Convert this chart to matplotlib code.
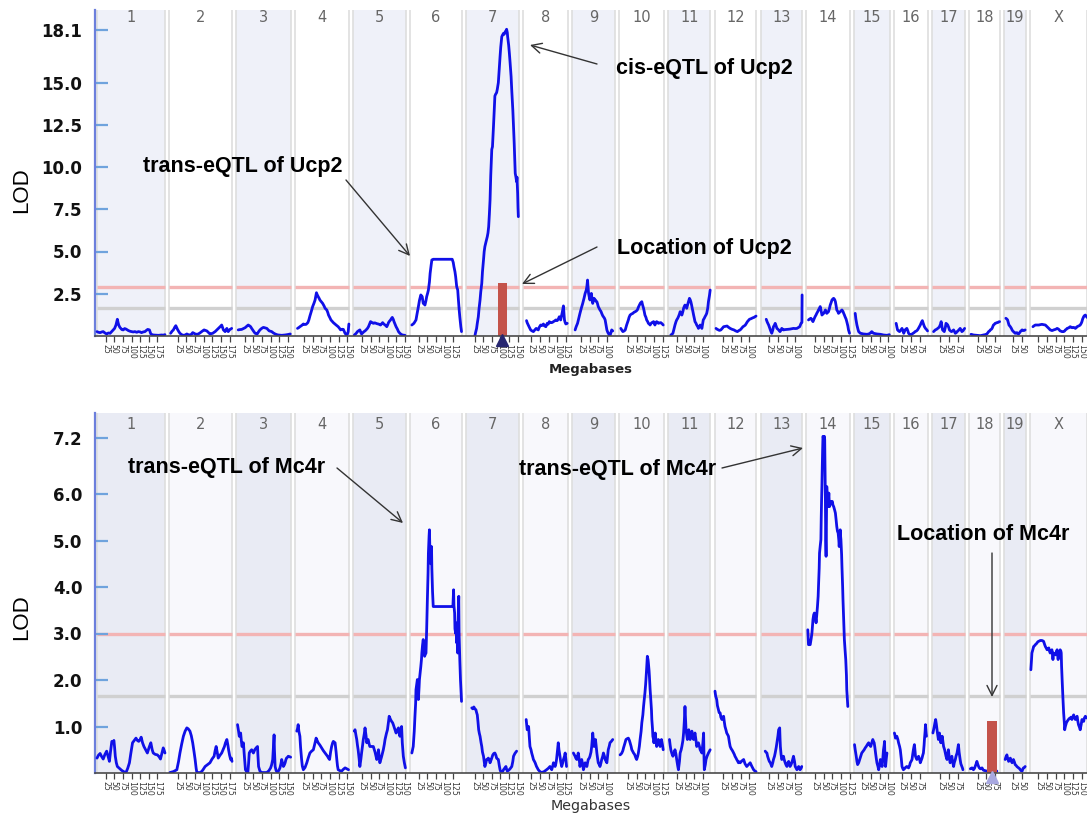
import matplotlib
matplotlib.use('Agg')
import matplotlib.pyplot as plt
import matplotlib.transforms as mtransforms
import numpy as np

plt.rcParams['font.family'] = ['DejaVu Sans']

# ---------------- chromosome layout (Mb) ----------------
CHROMS = ['1', '2', '3', '4', '5', '6', '7', '8', '9', '10', '11', '12', '13',
          '14', '15', '16', '17', '18', '19', 'X']
CHROM_LEN = [197.2, 181.7, 159.6, 155.6, 152.5, 149.5, 152.5, 131.7, 124.1, 129.9,
             121.8, 121.3, 120.3, 125.2, 103.5, 98.3, 95.3, 90.8, 61.3, 166.7]
GAP = 12.2

# ---------------- top panel: Ucp2 LOD scan (Mb, LOD) ----------------
UCP2_CHR1 = [(0,0.26),(4,0.22),(9,0.20),(14,0.24),(18,0.26),(23,0.18),(28,0.12),(33,0.18),(38,0.16),(42,0.25),(47,0.36),(51,0.45),(55,0.65),(59,0.99),(61,0.80),(63,0.65),(66,0.52),(69,0.45),(72,0.38),(76,0.36),(80,0.44),(84,0.41),(88,0.36),(91,0.32),(96,0.28),(100,0.26),(105,0.24),(110,0.26),(115,0.22),(120,0.26),(125,0.24),(129,0.20),(134,0.24),(139,0.26),(143,0.33),(147,0.39),(152,0.36),(156,0.12),(160,0.08),(163,0.06),(170,0.05),(178,0.04),(187,0.06),(192,0.05),(197,0.08)]
UCP2_CHR2 = [(4,0.16),(8,0.28),(12,0.36),(16,0.52),(19,0.61),(22,0.48),(24,0.39),(28,0.25),(31,0.16),(36,0.08),(41,0.04),(46,0.06),(51,0.12),(55,0.08),(60,0.06),(64,0.10),(68,0.20),(72,0.16),(75,0.12),(80,0.10),(84,0.12),(89,0.18),(94,0.26),(98,0.32),(101,0.36),(105,0.33),(109,0.30),(114,0.20),(118,0.12),(122,0.14),(126,0.16),(130,0.22),(133,0.26),(138,0.36),(145,0.50),(149,0.58),(152,0.65),(155,0.48),(157,0.36),(160,0.30),(162,0.26),(165,0.38),(167,0.45),(169,0.32),(171,0.26),(174,0.34),(176,0.39),(179,0.42),(181,0.45)]
UCP2_CHR3 = [(6,0.36),(11,0.38),(16,0.39),(21,0.44),(26,0.49),(31,0.58),(35,0.65),(39,0.60),(42,0.55),(45,0.45),(48,0.36),(52,0.24),(55,0.16),(58,0.14),(61,0.12),(65,0.25),(69,0.36),(74,0.45),(79,0.51),(84,0.48),(89,0.45),(93,0.36),(96,0.30),(100,0.28),(103,0.26),(108,0.18),(113,0.12),(118,0.08),(122,0.06),(127,0.05),(132,0.04),(137,0.05),(142,0.06),(148,0.08),(153,0.10),(157,0.12)]
UCP2_CHR4 = [(6,0.45),(10,0.50),(13,0.55),(18,0.62),(23,0.71),(27,0.68),(31,0.69),(36,0.79),(39,0.95),(42,1.18),(46,1.45),(50,1.74),(54,1.95),(57,2.13),(59,2.35),(61,2.56),(63,2.45),(66,2.33),(69,2.22),(71,2.13),(75,2.03),(79,1.93),(83,1.78),(86,1.64),(89,1.58),(91,1.54),(94,1.38),(96,1.24),(100,1.08),(103,0.95),(107,0.86),(110,0.79),(114,0.72),(118,0.65),(121,0.60),(124,0.55),(128,0.45),(131,0.36),(135,0.40),(139,0.39),(142,0.25),(144,0.16),(148,0.06),(151,0.12),(153,0.26),(155,0.71)]
UCP2_CHR5 = [(3,0.06),(8,0.15),(12,0.26),(16,0.32),(19,0.36),(22,0.20),(24,0.12),(28,0.20),(31,0.26),(34,0.30),(37,0.36),(41,0.45),(44,0.55),(47,0.70),(50,0.85),(54,0.80),(58,0.75),(62,0.78),(66,0.75),(70,0.72),(73,0.71),(76,0.68),(79,0.65),(82,0.72),(85,0.79),(88,0.72),(92,0.65),(95,0.60),(97,0.55),(100,0.68),(102,0.79),(105,0.88),(108,0.95),(111,1.05),(113,1.10),(116,0.98),(118,0.85),(121,0.70),(124,0.55),(128,0.40),(131,0.26),(135,0.16),(140,0.08),(145,0.05),(150,0.04)]
UCP2_CHR6 = [(5,0.65),(8,0.70),(11,0.75),(14,0.85),(17,0.95),(20,1.30),(24,1.74),(27,2.10),(31,2.43),(33,2.38),(35,2.33),(38,1.93),(41,1.88),(43,1.83),(46,2.10),(48,2.33),(51,2.55),(53,2.72),(56,3.20),(58,3.71),(61,4.20),(63,4.50),(67,4.54),(80,4.54),(95,4.54),(110,4.54),(122,4.54),(125,4.35),(127,4.10),(130,3.80),(132,3.51),(135,2.92),(138,2.72),(140,2.13),(142,1.60),(144,1.14),(147,0.55),(149,0.26)]
UCP2_CHR7 = [(26,0.0),(28,0.2),(31,0.45),(33,0.75),(36,1.14),(38,1.60),(41,2.13),(43,2.60),(46,3.12),(48,3.80),(51,4.50),(53,5.00),(55,5.29),(58,5.55),(62,5.88),(64,6.10),(66,6.47),(68,7.20),(70,8.05),(72,9.50),(75,11.04),(77,11.20),(80,12.43),(82,13.30),(84,14.20),(86,14.30),(89,14.40),(91,14.60),(94,14.99),(96,15.60),(99,16.53),(101,17.10),(104,17.71),(106,17.80),(109,17.91),(111,17.85),(114,18.01),(116,18.05),(118,18.15),(120,17.95),(121,17.71),(124,17.20),(126,16.73),(128,16.20),(131,15.35),(133,14.50),(136,13.37),(138,12.40),(140,11.40),(142,10.20),(143,9.63),(145,9.40),(147,9.13),(148,9.40),(150,8.44),(151,7.60),(152,7.06)]
UCP2_CHR8 = [(11,0.91),(13,0.78),(16,0.65),(20,0.48),(23,0.36),(27,0.30),(31,0.26),(35,0.36),(39,0.45),(42,0.40),(45,0.36),(48,0.52),(52,0.65),(56,0.62),(60,0.71),(63,0.60),(67,0.55),(71,0.75),(74,0.70),(77,0.85),(80,0.80),(84,0.79),(87,0.82),(89,0.85),(93,0.90),(96,0.95),(100,0.91),(103,1.00),(106,1.14),(108,1.05),(110,0.95),(112,1.15),(114,1.34),(116,1.55),(118,1.78),(120,1.20),(121,0.95),(123,0.80),(125,0.71),(127,0.73),(129,0.75)]
UCP2_CHR9 = [(8,0.36),(11,0.55),(15,0.75),(18,1.00),(22,1.34),(26,1.65),(30,1.93),(34,2.25),(37,2.52),(40,2.70),(42,2.92),(44,3.31),(45,3.00),(47,2.52),(49,2.30),(51,2.13),(53,2.35),(55,2.52),(57,2.20),(59,1.93),(61,2.10),(63,2.23),(65,2.15),(67,2.13),(69,2.05),(71,2.03),(73,1.90),(75,1.74),(78,1.62),(80,1.54),(83,1.45),(85,1.34),(88,1.20),(90,1.14),(93,1.05),(95,0.95),(98,0.60),(100,0.36),(102,0.25),(104,0.16),(107,0.08),(109,0.0),(111,0.15),(114,0.36),(117,0.30)]
UCP2_CHR10 = [(4,0.45),(7,0.35),(10,0.26),(14,0.30),(17,0.36),(21,0.65),(26,0.95),(28,1.10),(31,1.24),(35,1.30),(39,1.34),(42,1.40),(46,1.44),(49,1.48),(52,1.54),(55,1.70),(58,1.83),(61,1.95),(65,2.03),(67,1.85),(70,1.64),(72,1.45),(74,1.24),(77,1.10),(79,0.95),(82,0.85),(84,0.75),(87,0.70),(89,0.65),(91,0.72),(94,0.79),(97,0.82),(99,0.85),(101,0.75),(103,0.65),(106,0.80),(108,0.85),(111,0.80),(113,0.75),(117,0.78),(120,0.79),(124,0.72),(127,0.65)]
UCP2_CHR11 = [(7,0.06),(10,0.10),(13,0.16),(16,0.40),(19,0.65),(22,0.85),(24,0.95),(27,1.05),(29,1.14),(32,1.30),(34,1.44),(37,1.35),(39,1.24),(42,1.45),(44,1.64),(46,1.75),(48,1.83),(51,1.75),(53,1.64),(57,1.95),(61,2.23),(63,2.15),(65,2.03),(67,1.85),(69,1.64),(71,1.45),(73,1.24),(75,1.05),(77,0.85),(80,0.75),(82,0.65),(85,0.55),(87,0.45),(90,0.55),(92,0.65),(95,0.55),(97,0.45),(99,0.70),(101,0.95),(104,1.05),(106,1.14),(109,1.25),(111,1.34),(114,1.65),(116,2.03),(119,2.40),(121,2.72)]
UCP2_CHR12 = [(4,0.45),(7,0.40),(11,0.36),(14,0.33),(18,0.36),(22,0.45),(26,0.55),(31,0.57),(36,0.59),(40,0.52),(45,0.45),(50,0.40),(56,0.36),(61,0.30),(66,0.26),(70,0.32),(74,0.36),(78,0.45),(82,0.55),(86,0.60),(89,0.65),(92,0.75),(95,0.85),(98,0.92),(101,0.99),(105,1.02),(108,1.05),(111,1.08),(114,1.10),(117,1.14),(120,1.18)]
UCP2_CHR13 = [(16,0.99),(19,0.82),(23,0.65),(26,0.48),(28,0.36),(30,0.25),(32,0.16),(35,0.35),(37,0.55),(40,0.65),(42,0.75),(45,0.58),(47,0.45),(50,0.40),(52,0.36),(54,0.30),(56,0.26),(59,0.35),(61,0.45),(64,0.40),(66,0.36),(71,0.38),(76,0.39),(81,0.40),(85,0.41),(90,0.43),(95,0.45),(100,0.44),(105,0.45),(109,0.50),(113,0.55),(117,0.75),(119.5,0.80),(120,2.43)]
UCP2_CHR14 = [(6,0.95),(9,1.00),(13,1.05),(16,0.95),(19,0.85),(22,1.00),(25,1.14),(28,1.25),(30,1.34),(33,1.45),(35,1.54),(38,1.65),(40,1.74),(43,1.45),(45,1.24),(48,1.30),(50,1.34),(53,1.45),(55,1.54),(57,1.45),(59,1.34),(62,1.40),(64,1.44),(67,1.65),(69,1.83),(72,2.00),(74,2.13),(77,2.20),(79,2.23),(82,2.15),(84,2.03),(86,1.80),(88,1.54),(91,1.45),(93,1.34),(96,1.40),(98,1.44),(101,1.50),(103,1.54),(106,1.45),(108,1.34),(110,1.25),(112,1.14),(115,1.00),(117,0.85),(120,0.60),(122,0.36),(125,0.16)]
UCP2_CHR15 = [(4,1.34),(6,1.00),(9,0.65),(12,0.40),(14,0.26),(17,0.20),(19,0.16),(24,0.14),(28,0.12),(33,0.11),(38,0.10),(43,0.12),(47,0.16),(50,0.22),(52,0.26),(55,0.20),(57,0.16),(62,0.14),(67,0.12),(72,0.11),(77,0.10),(82,0.08),(86,0.06),(91,0.05),(96,0.04),(100,0.06),(103,0.08)]
UCP2_CHR16 = [(7,0.75),(9,0.55),(11,0.36),(14,0.30),(17,0.26),(21,0.36),(24,0.45),(27,0.30),(29,0.16),(31,0.26),(33,0.36),(36,0.42),(38,0.45),(41,0.30),(43,0.16),(46,0.10),(48,0.06),(52,0.10),(56,0.16),(59,0.20),(62,0.26),(66,0.30),(69,0.36),(73,0.50),(77,0.65),(80,0.80),(83,0.91),(86,0.72),(89,0.55),(92,0.45),(96,0.36),(98,0.30)]
UCP2_CHR17 = [(5,0.26),(7,0.30),(10,0.36),(14,0.40),(17,0.45),(20,0.50),(22,0.55),(25,0.70),(27,0.85),(29,0.60),(31,0.36),(34,0.30),(36,0.26),(39,0.50),(41,0.75),(44,0.70),(46,0.65),(49,0.50),(51,0.36),(54,0.30),(57,0.26),(60,0.30),(63,0.36),(66,0.25),(68,0.16),(71,0.20),(73,0.26),(76,0.30),(78,0.36),(80,0.40),(82,0.45),(85,0.35),(87,0.26),(90,0.30),(92,0.36),(95,0.45)]
UCP2_CHR18 = [(6,0.10),(10,0.08),(13,0.06),(18,0.05),(23,0.04),(28,0.03),(33,0.02),(38,0.04),(42,0.06),(47,0.08),(52,0.12),(55,0.20),(57,0.26),(60,0.30),(62,0.36),(65,0.40),(67,0.45),(69,0.55),(71,0.65),(74,0.70),(76,0.75),(79,0.77),(81,0.79),(84,0.80),(86,0.83),(89,0.85)]
UCP2_CHR19 = [(4,1.05),(7,1.00),(9,0.95),(11,0.80),(13,0.65),(15,0.60),(17,0.55),(20,0.45),(22,0.36),(24,0.30),(26,0.26),(29,0.20),(31,0.16),(34,0.18),(36,0.20),(38,0.15),(41,0.12),(44,0.20),(46,0.26),(49,0.32),(51,0.36),(54,0.34),(56,0.32),(58,0.34),(60,0.36)]
UCP2_CHRX = [(9,0.55),(12,0.60),(16,0.65),(21,0.65),(26,0.65),(30,0.67),(35,0.69),(40,0.67),(45,0.65),(50,0.55),(55,0.45),(59,0.36),(62,0.34),(64,0.32),(67,0.34),(69,0.36),(72,0.38),(74,0.39),(77,0.42),(79,0.45),(82,0.42),(84,0.39),(86,0.34),(88,0.30),(91,0.28),(93,0.26),(96,0.26),(98,0.26),(101,0.30),(103,0.36),(106,0.40),(108,0.45),(111,0.47),(113,0.49),(115,0.52),(117,0.55),(120,0.52),(122,0.49),(125,0.50),(127,0.51),(130,0.48),(132,0.45),(135,0.50),(137,0.55),(139,0.57),(141,0.59),(144,0.62),(146,0.65),(149,0.75),(151,0.85),(153,1.00),(156,1.14),(158,1.20),(161,1.24),(163,1.18),(166,1.10)]

# ---------------- bottom panel: Mc4r LOD scan (Mb, LOD) ----------------
MC4R_CHR1 = [(0,0.32),(4,0.38),(9,0.42),(13,0.36),(18,0.30),(23,0.40),(28,0.47),(32,0.36),(36,0.25),(39,0.45),(43,0.68),(46,0.66),(49,0.70),(51,0.55),(53,0.36),(56,0.22),(59,0.14),(65,0.10),(71,0.06),(77,0.03),(84,0.01),(89,0.10),(94,0.22),(98,0.42),(103,0.65),(108,0.70),(113,0.75),(117,0.70),(121,0.68),(125,0.72),(128,0.77),(132,0.65),(136,0.57),(141,0.50),(146,0.43),(151,0.55),(156,0.65),(160,0.50),(163,0.43),(169,0.40),(175,0.39),(180,0.35),(184,0.30),(188,0.42),(192,0.54),(195,0.48),(197,0.43)]
MC4R_CHR2 = [(2,0.01),(12,0.03),(22,0.07),(27,0.25),(31,0.43),(36,0.62),(41,0.79),(46,0.90),(51,0.97),(55,0.95),(60,0.90),(64,0.80),(68,0.65),(72,0.45),(75,0.29),(78,0.10),(80,0.01),(86,0.01),(91,0.01),(97,0.06),(104,0.14),(111,0.18),(118,0.22),(124,0.30),(130,0.36),(133,0.48),(136,0.57),(139,0.45),(142,0.32),(147,0.38),(152,0.43),(156,0.50),(160,0.57),(163,0.65),(167,0.72),(170,0.60),(172,0.50),(175,0.38),(178,0.29),(180,0.32),(182,0.25)]
MC4R_CHR3 = [(4,1.04),(7,0.90),(9,0.79),(11,0.82),(13,0.86),(15,0.70),(17,0.57),(19,0.60),(21,0.65),(24,0.35),(27,0.07),(31,0.02),(34,0.01),(36,0.20),(38,0.43),(41,0.47),(45,0.50),(47,0.47),(50,0.43),(54,0.50),(58,0.54),(62,0.57),(63,0.40),(65,0.14),(69,0.04),(74,0.01),(80,0.01),(89,0.01),(95,0.05),(100,0.11),(103,0.18),(106,0.29),(108,0.55),(110,0.82),(111,0.50),(113,0.14),(116,0.05),(120,0.01),(124,0.06),(127,0.11),(130,0.20),(132,0.29),(135,0.20),(137,0.14),(140,0.18),(142,0.22),(144,0.28),(146,0.32),(149,0.34),(151,0.36),(155,0.35),(158,0.34)]
MC4R_CHR4 = [(4,0.90),(6,0.95),(8,1.04),(10,0.90),(13,0.79),(15,0.55),(18,0.29),(20,0.15),(23,0.07),(28,0.12),(33,0.22),(37,0.32),(42,0.43),(47,0.47),(52,0.50),(56,0.62),(60,0.75),(63,0.70),(66,0.65),(71,0.60),(76,0.54),(81,0.48),(86,0.43),(89,0.40),(93,0.36),(96,0.32),(99,0.29),(102,0.45),(105,0.57),(108,0.65),(110,0.68),(113,0.66),(115,0.65),(118,0.45),(120,0.29),(122,0.15),(124,0.07),(129,0.05),(134,0.04),(139,0.08),(144,0.11),(149,0.09),(154,0.07)]
MC4R_CHR5 = [(3,0.90),(5,0.93),(8,0.80),(10,0.72),(12,0.60),(14,0.50),(17,0.30),(19,0.14),(22,0.30),(24,0.43),(27,0.60),(29,0.72),(32,0.85),(34,0.97),(37,0.80),(39,0.65),(41,0.70),(43,0.72),(46,0.62),(48,0.57),(53,0.57),(58,0.57),(63,0.45),(68,0.29),(71,0.40),(73,0.50),(75,0.35),(77,0.22),(82,0.35),(87,0.50),(90,0.62),(92,0.72),(96,0.85),(99,0.93),(102,1.10),(104,1.22),(108,1.15),(111,1.11),(114,1.08),(116,1.04),(120,0.95),(124,0.86),(127,0.92),(131,0.97),(133,0.85),(135,0.79),(138,0.90),(140,1.00),(142,0.65),(145,0.36),(148,0.22),(151,0.11)]
MC4R_CHR6 = [(5,0.43),(7,0.50),(9,0.57),(12,0.90),(14,1.22),(16,1.50),(17,1.79),(19,1.90),(21,2.01),(23,1.80),(24,1.58),(26,1.85),(27,2.01),(29,2.15),(31,2.29),(33,2.45),(34,2.58),(36,2.75),(38,2.87),(40,2.60),(42,2.51),(44,2.55),(46,2.58),(48,3.10),(50,3.73),(52,4.30),(53,4.73),(55,5.10),(56,5.23),(57,4.90),(58,4.60),(59,4.66),(60,4.50),(62,4.87),(63,4.40),(65,3.90),(67,3.58),(80,3.58),(95,3.58),(110,3.58),(122,3.58),(124,3.58),(126,3.94),(127,3.60),(129,3.44),(130,3.10),(132,3.00),(133,3.20),(134,3.01),(135,2.80),(136,3.23),(137,2.70),(138,2.58),(139,3.20),(140,3.58),(141,3.80),(142,3.00),(144,2.44),(146,2.00),(148,1.70),(149,1.54)]
MC4R_CHR7 = [(17,1.40),(20,1.38),(23,1.42),(26,1.38),(29,1.36),(31,1.30),(33,1.25),(35,1.10),(37,0.93),(39,0.85),(41,0.79),(44,0.65),(46,0.57),(48,0.45),(51,0.36),(53,0.25),(55,0.14),(58,0.22),(60,0.29),(63,0.30),(65,0.32),(68,0.28),(70,0.22),(74,0.30),(78,0.39),(81,0.42),(84,0.43),(87,0.38),(89,0.32),(92,0.30),(94,0.29),(97,0.15),(99,0.07),(101,0.03),(104,0.01),(107,0.04),(109,0.07),(112,0.10),(116,0.14),(118,0.08),(120,0.04),(124,0.06),(128,0.09),(131,0.12),(133,0.14),(136,0.25),(138,0.36),(142,0.42),(147,0.47)]
MC4R_CHR8 = [(10,1.15),(12,1.00),(13,0.93),(15,0.98),(17,1.00),(19,0.78),(21,0.57),(24,0.50),(26,0.43),(29,0.35),(31,0.29),(34,0.25),(36,0.22),(38,0.18),(40,0.14),(43,0.10),(45,0.07),(50,0.03),(55,0.01),(62,0.03),(69,0.07),(74,0.10),(79,0.14),(82,0.10),(84,0.07),(87,0.15),(89,0.22),(91,0.18),(94,0.14),(96,0.20),(98,0.29),(101,0.50),(103,0.65),(105,0.50),(108,0.36),(110,0.25),(113,0.14),(116,0.22),(118,0.29),(121,0.36),(123,0.43),(125,0.30),(127,0.14)]
MC4R_CHR9 = [(3,0.43),(5,0.40),(8,0.36),(10,0.32),(13,0.29),(15,0.36),(17,0.43),(20,0.28),(22,0.14),(24,0.22),(27,0.29),(30,0.18),(32,0.07),(35,0.15),(37,0.22),(40,0.18),(42,0.14),(44,0.22),(46,0.29),(49,0.32),(51,0.36),(54,0.45),(56,0.57),(58,0.75),(59,0.86),(61,0.70),(63,0.57),(65,0.65),(67,0.72),(69,0.58),(71,0.43),(73,0.32),(75,0.22),(78,0.18),(80,0.14),(83,0.22),(85,0.29),(88,0.36),(90,0.43),(93,0.36),(95,0.29),(98,0.25),(100,0.22),(102,0.36),(104,0.50),(107,0.58),(109,0.65),(113,0.68),(117,0.72)]
MC4R_CHR10 = [(2,0.39),(5,0.41),(7,0.43),(10,0.48),(12,0.54),(16,0.64),(19,0.72),(23,0.74),(26,0.75),(29,0.70),(31,0.65),(34,0.57),(36,0.50),(39,0.46),(41,0.43),(44,0.40),(46,0.36),(48,0.32),(50,0.29),(53,0.36),(55,0.43),(58,0.58),(60,0.72),(63,0.90),(65,1.08),(68,1.25),(70,1.43),(72,1.58),(74,1.72),(76,1.90),(77,2.01),(79,2.25),(81,2.51),(83,2.44),(84,2.37),(86,2.20),(87,2.08),(89,1.80),(91,1.58),(93,1.35),(94,1.15),(96,0.95),(97,0.79),(99,0.72),(100,0.65),(102,0.75),(104,0.86),(106,0.70),(108,0.57),(111,0.65),(113,0.72),(116,0.65),(118,0.57),(120,0.65),(122,0.72),(125,0.60),(127,0.50)]
MC4R_CHR11 = [(3,0.72),(5,0.60),(7,0.50),(10,0.42),(13,0.36),(16,0.42),(19,0.50),(22,0.40),(24,0.29),(27,0.15),(29,0.07),(32,0.25),(34,0.43),(37,0.50),(39,0.57),(42,0.70),(44,0.86),(46,1.10),(48,1.43),(50,1.10),(51,0.93),(53,0.82),(55,0.72),(57,0.82),(59,0.93),(61,0.80),(63,0.72),(66,0.82),(68,0.90),(70,0.80),(73,0.72),(75,0.80),(77,0.86),(80,0.70),(82,0.57),(85,0.62),(87,0.65),(90,0.57),(92,0.50),(95,0.46),(97,0.43),(100,0.65),(102,0.86),(103,0.40),(104,0.07),(107,0.18),(109,0.29),(112,0.36),(116,0.43),(119,0.47),(121,0.50)]
MC4R_CHR12 = [(1,1.76),(3,1.65),(6,1.58),(8,1.45),(11,1.36),(13,1.30),(16,1.29),(18,1.20),(21,1.15),(23,1.20),(26,1.22),(28,1.10),(30,1.00),(33,0.92),(35,0.86),(38,0.82),(40,0.79),(43,0.65),(45,0.57),(48,0.52),(50,0.50),(53,0.46),(55,0.43),(57,0.40),(59,0.36),(62,0.32),(64,0.29),(67,0.25),(69,0.22),(72,0.24),(74,0.22),(79,0.26),(84,0.29),(88,0.20),(93,0.14),(98,0.18),(103,0.22),(108,0.14),(113,0.07),(117,0.04),(120,0.03)]
MC4R_CHR13 = [(13,0.47),(15,0.45),(18,0.43),(20,0.36),(23,0.29),(25,0.25),(28,0.22),(30,0.18),(32,0.14),(35,0.22),(37,0.29),(40,0.36),(42,0.43),(45,0.55),(47,0.65),(50,0.80),(52,0.93),(55,0.97),(56,0.75),(57,0.57),(59,0.40),(61,0.29),(64,0.32),(66,0.36),(68,0.29),(71,0.22),(73,0.18),(76,0.14),(78,0.20),(81,0.25),(83,0.20),(85,0.14),(88,0.18),(90,0.22),(93,0.30),(95,0.36),(98,0.25),(100,0.14),(103,0.10),(105,0.07),(107,0.10),(110,0.14),(112,0.10),(114,0.07),(117,0.10),(119,0.14)]
MC4R_CHR14 = [(4,3.08),(6,2.76),(9,2.76),(11,2.76),(14,2.90),(16,3.01),(18,3.20),(19,3.30),(21,3.40),(23,3.44),(25,3.37),(27,3.30),(28,3.23),(30,3.40),(32,3.58),(34,3.80),(35,4.01),(37,4.40),(38,4.73),(40,4.88),(42,5.02),(43,5.50),(44,5.88),(45,6.20),(46,6.59),(47,6.95),(48,7.24),(50,7.20),(52,7.24),(53,7.17),(54,6.50),(55,5.88),(56,5.00),(57,4.66),(58,5.40),(59,6.16),(60,6.00),(61,5.88),(62,5.80),(63,5.73),(64,5.90),(65,6.02),(66,5.85),(67,5.73),(69,5.78),(71,5.84),(73,5.80),(75,5.84),(77,5.76),(79,5.73),(82,5.65),(84,5.59),(86,5.45),(88,5.30),(90,5.20),(92,5.16),(94,5.00),(95,4.87),(97,5.10),(98,5.23),(99,5.10),(100,5.02),(102,4.70),(103,4.44),(105,4.00),(106,3.73),(108,3.30),(110,2.87),(112,2.65),(114,2.44),(116,2.10),(117,1.79),(119,1.55),(120,1.43)]
MC4R_CHR15 = [(2,0.61),(4,0.50),(7,0.36),(9,0.25),(11,0.18),(14,0.22),(17,0.29),(20,0.36),(23,0.43),(27,0.47),(30,0.50),(33,0.54),(36,0.57),(40,0.62),(43,0.65),(46,0.60),(49,0.57),(52,0.65),(55,0.72),(57,0.68),(59,0.65),(61,0.55),(63,0.43),(65,0.32),(67,0.22),(70,0.14),(72,0.07),(75,0.18),(77,0.29),(80,0.20),(82,0.14),(84,0.30),(86,0.50),(88,0.60),(89,0.68),(90,0.40),(92,0.14),(94,0.30),(96,0.43)]
MC4R_CHR16 = [(2,0.86),(4,0.80),(5,0.75),(7,0.78),(9,0.79),(12,0.72),(14,0.65),(17,0.57),(19,0.50),(22,0.30),(24,0.14),(26,0.10),(28,0.07),(31,0.09),(33,0.11),(36,0.13),(38,0.14),(41,0.12),(43,0.11),(46,0.16),(48,0.22),(51,0.26),(53,0.29),(55,0.40),(57,0.50),(59,0.58),(60,0.61),(62,0.45),(63,0.36),(65,0.32),(67,0.29),(70,0.33),(72,0.36),(75,0.29),(77,0.22),(80,0.28),(82,0.32),(84,0.38),(86,0.43),(88,0.60),(89,0.72),(91,0.90),(92,1.04),(94,0.85),(95,0.79)]
MC4R_CHR17 = [(3,0.86),(5,0.93),(7,1.00),(9,1.08),(11,1.15),(13,1.05),(15,0.93),(17,0.82),(19,0.72),(21,0.80),(22,0.86),(24,0.75),(26,0.65),(28,0.72),(30,0.79),(32,0.68),(34,0.57),(37,0.50),(39,0.43),(41,0.36),(44,0.29),(46,0.40),(48,0.50),(50,0.36),(53,0.22),(55,0.29),(58,0.36),(60,0.25),(63,0.14),(65,0.22),(68,0.29),(70,0.36),(73,0.43),(75,0.52),(77,0.61),(79,0.45),(82,0.29),(84,0.20),(87,0.14),(89,0.10),(90,0.07)]
MC4R_CHR18 = [(4,0.09),(6,0.10),(9,0.11),(11,0.09),(13,0.07),(16,0.10),(18,0.14),(21,0.20),(23,0.25),(25,0.20),(28,0.14),(30,0.11),(33,0.09),(35,0.10),(38,0.11),(40,0.08),(42,0.06),(47,0.05),(52,0.04),(57,0.03),(62,0.01),(65,0.04),(67,0.07),(69,0.05),(71,0.04),(74,0.06),(76,0.07),(78,0.05),(81,0.04)]
MC4R_CHR19 = [(2,0.29),(4,0.34),(7,0.39),(9,0.32),(12,0.25),(14,0.29),(17,0.32),(19,0.27),(22,0.22),(24,0.26),(26,0.29),(29,0.23),(31,0.18),(34,0.16),(36,0.14),(39,0.12),(41,0.11),(44,0.09),(46,0.07),(48,0.05),(51,0.04),(53,0.08),(55,0.11),(58,0.12),(60,0.14)]
MC4R_CHRX = [(3,2.22),(5,2.45),(6,2.58),(9,2.66),(11,2.72),(14,2.74),(16,2.76),(19,2.78),(21,2.80),(23,2.82),(25,2.83),(28,2.84),(30,2.85),(33,2.85),(35,2.85),(38,2.84),(40,2.83),(43,2.76),(45,2.72),(48,2.68),(50,2.65),(53,2.67),(55,2.69),(57,2.62),(59,2.58),(62,2.62),(64,2.65),(66,2.54),(67,2.44),(68,2.55),(69,2.58),(72,2.56),(74,2.54),(77,2.60),(79,2.65),(81,2.50),(82,2.44),(84,2.55),(85,2.58),(87,2.62),(88,2.65),(90,2.62),(91,2.58),(92,2.30),(94,1.94),(96,1.60),(98,1.29),(100,1.08),(101,0.93),(103,1.00),(106,1.08),(109,1.12),(112,1.15),(114,1.17),(117,1.18),(119,1.20),(122,1.15),(124,1.20),(127,1.25),(129,1.20),(132,1.15),(134,1.18),(137,1.22),(139,1.12),(141,1.04),(144,0.98),(146,0.93),(149,1.05),(151,1.15),(154,1.12),(156,1.11),(158,1.18),(161,1.22),(163,1.20),(166,1.18)]

UCP2_CURVES = [UCP2_CHR1, UCP2_CHR2, UCP2_CHR3, UCP2_CHR4, UCP2_CHR5, UCP2_CHR6, UCP2_CHR7,
               UCP2_CHR8, UCP2_CHR9, UCP2_CHR10, UCP2_CHR11, UCP2_CHR12, UCP2_CHR13, UCP2_CHR14,
               UCP2_CHR15, UCP2_CHR16, UCP2_CHR17, UCP2_CHR18, UCP2_CHR19, UCP2_CHRX]
MC4R_CURVES = [MC4R_CHR1, MC4R_CHR2, MC4R_CHR3, MC4R_CHR4, MC4R_CHR5, MC4R_CHR6, MC4R_CHR7,
               MC4R_CHR8, MC4R_CHR9, MC4R_CHR10, MC4R_CHR11, MC4R_CHR12, MC4R_CHR13, MC4R_CHR14,
               MC4R_CHR15, MC4R_CHR16, MC4R_CHR17, MC4R_CHR18, MC4R_CHR19, MC4R_CHRX]

# thresholds (significant, suggestive)
UCP2_THRESH = [2.92, 1.64]
MC4R_THRESH = [2.99, 1.66]

# gene locations: chromosome, Mb, LOD height of marker bar
UCP2_GENE = ('7', 106.0, 3.16)
MC4R_GENE = ('18', 67.5, 1.12)
GENE_BAR_MB = 28.0

UCP2_YTICKS = [2.5, 5.0, 7.5, 10.0, 12.5, 15.0, 18.1]
MC4R_YTICKS = [1.0, 2.0, 3.0, 4.0, 5.0, 6.0, 7.2]

# ---------------- figure ----------------
W, H = 1087, 823
fig = plt.figure(figsize=(W / 100, H / 100), dpi=100)

starts = np.concatenate([[0], np.cumsum(np.array(CHROM_LEN) + GAP)[:-1]])
chrom_start = dict(zip(CHROMS, starts))
XLIM = (-5.8, 2869.6)


def make_axes(top_px, bottom_px):
    return fig.add_axes([95 / W, 1 - bottom_px / H, 1 - 95 / W, (bottom_px - top_px) / H])


def draw_panel(ax, curves, thresh, gene, yticks, ymax, shade, light, tri_color, label_y):
    ax.set_xlim(*XLIM)
    ax.set_ylim(0, ymax)
    ax.set_facecolor('white')
    trans = mtransforms.blended_transform_factory(ax.transData, ax.transAxes)
    for i, (name, s, L) in enumerate(zip(CHROMS, starts, CHROM_LEN)):
        fc = shade if i % 2 == 0 else light
        ax.axvspan(s, s + L, facecolor=fc, edgecolor='none', zorder=0)
        for xx in (s, s + L):
            ax.axvline(xx, color='#dedede', lw=1.2, zorder=0.5)
        ax.hlines(thresh[0], s, s + L, color='#f3b4b4', lw=2.4, zorder=1)
        ax.hlines(thresh[1], s, s + L, color='#d0d0d0', lw=2.4, zorder=1)
        ax.text(s + L / 2, label_y, name, transform=trans,
                ha='center', va='center', fontsize=10.5, color='#666666', zorder=6)
    for s, pts in zip(starts, curves):
        arr = np.array(pts, dtype=float)
        ax.plot(s + arr[:, 0], arr[:, 1], color='#1010e8', lw=2.0, zorder=3,
                solid_joinstyle='round', solid_capstyle='round')
    # gene location bar and marker
    gchr, gmb, gh = gene
    gx = chrom_start[gchr] + gmb
    ax.bar([gx], [gh], width=GENE_BAR_MB, color='#c4534b', zorder=4)
    off = mtransforms.ScaledTranslation(0, -4 / 100, fig.dpi_scale_trans)
    ax.plot([gx], [0], marker='^', ms=8, color=tri_color, clip_on=False, zorder=6,
            transform=ax.transData + off)
    # x ticks every 25 Mb within each chromosome
    xt, xl = [], []
    for s, L in zip(starts, CHROM_LEN):
        for m in range(25, int(L) + 1, 25):
            if m < L:
                xt.append(s + m)
                xl.append(str(m))
    ax.set_xticks(xt)
    ax.set_xticklabels(xl, rotation=270, fontsize=5.6, color='#3a3a3a')
    ax.tick_params(axis='x', direction='out', length=4, width=0.9, color='#444444', pad=1.5)
    ax.set_yticks(yticks)
    ax.set_yticklabels([f'{v:.1f}' for v in yticks], fontsize=12, fontweight='bold', color='#111111')
    ax.tick_params(axis='y', direction='in', length=9, width=1.6, color='#6fa3dd', pad=9)
    for sp in ('top', 'right'):
        ax.spines[sp].set_visible(False)
    ax.spines['bottom'].set_color('#4a4a4a')
    ax.spines['bottom'].set_linewidth(1.2)
    ax.spines['bottom'].set_zorder(5)
    ax.spines['left'].set_color('#6c7fdc')
    ax.spines['left'].set_linewidth(1.6)


ax_top = make_axes(10, 336)
ax_bot = make_axes(413, 773)
draw_panel(ax_top, UCP2_CURVES, UCP2_THRESH, UCP2_GENE, UCP2_YTICKS, (336 - 10) / 16.9,
           '#eff1f9', '#ffffff', '#262670', 0.976)
draw_panel(ax_bot, MC4R_CURVES, MC4R_THRESH, MC4R_GENE, MC4R_YTICKS, (773 - 413) / 46.5,
           '#e9ebf4', '#f8f8fc', '#a8a8e0', 0.967)


def ftext(x, y, s, **kw):
    fig.text(x / W, 1 - y / H, s, **kw)


def arrow(ax, tail, head):
    a = ax.annotate('', xy=(head[0], H - head[1]), xycoords='figure pixels',
                    xytext=(tail[0], H - tail[1]), textcoords='figure pixels',
                    annotation_clip=False,
                    arrowprops=dict(arrowstyle='->', color='#333333', lw=1.0,
                                    shrinkA=0, shrinkB=0, mutation_scale=18))
    a.arrow_patch.set_clip_on(False)
    a.arrow_patch.set_zorder(7)


ann = dict(fontsize=15.5, fontweight='bold', family='Liberation Sans', color='black',
           ha='left', va='baseline', zorder=8)
ftext(143, 172, 'trans-eQTL of Ucp2', **ann)
ftext(616, 74, 'cis-eQTL of Ucp2', **ann)
ftext(617, 254, 'Location of Ucp2', **ann)
ftext(128, 473, 'trans-eQTL of Mc4r', **ann)
ftext(519, 475, 'trans-eQTL of Mc4r', **ann)
ftext(897, 540, 'Location of Mc4r', **ann)

arrow(ax_top, (346, 180), (410, 256))
arrow(ax_top, (597, 64), (530, 45))
arrow(ax_top, (597, 247), (522, 284))
arrow(ax_bot, (337, 468), (403, 523))
arrow(ax_bot, (722, 468), (803, 448))
arrow(ax_bot, (992, 553), (992, 697))

ftext(591, 369, 'Megabases', ha='center', va='center', fontsize=9.5, fontweight='bold', color='#222222')
ftext(591, 806, 'Megabases', ha='center', va='center', fontsize=10.3, color='#333333')
ftext(22, 190, 'LOD', rotation=90, ha='center', va='center', fontsize=16, family='Liberation Sans')
ftext(22, 617, 'LOD', rotation=90, ha='center', va='center', fontsize=16, family='Liberation Sans')

fig.savefig('out.png', dpi=100)
